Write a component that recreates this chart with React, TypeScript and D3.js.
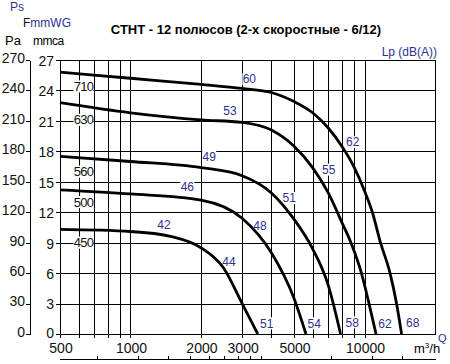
import React from 'react';
import * as d3 from 'd3';

const title = 'СТНТ - 12 полюсов (2-х скоростные - 6/12)';

// fan sizes and the pressure (mmca) where their name sits on the left
const fanSizes = ['710', '630', '560', '500', '450'];
const fanLabelQ = 630;
const fanLabelP = [24.4, 21.1, 16.0, 13.0, 9.0];

// curves as [Q m3/h, P mmca]
const curve710 = [[500, 25.8], [1000, 25.2], [2000, 24.6], [3000, 24.2], [4000, 23.8], [5000, 22.9], [6000, 21.8], [7000, 20.3], [8000, 18.5], [9000, 16.5], [10000, 14.1], [10800, 12], [11700, 9], [12850, 6], [13700, 3], [14400, 0]];
const curve630 = [[500, 22.8], [1000, 21.8], [2000, 21.1], [3000, 20.85], [4000, 20.1], [5000, 18.5], [6000, 16.4], [7000, 13.9], [8000, 11.0], [8750, 9.0], [9700, 6.0], [10450, 3.0], [11200, 0]];
const curve560 = [[500, 17.5], [1000, 17.0], [2000, 16.4], [3000, 15.6], [4000, 13.9], [5000, 11.3], [6000, 8.4], [7000, 4.8], [7900, 0]];
const curve500 = [[500, 14.2], [1000, 13.8], [2000, 13.2], [3000, 11.4], [4000, 8.0], [5000, 3.5], [5620, 0]];
const curve450 = [[500, 10.3], [1000, 10.1], [1500, 9.6], [2000, 8.5], [2500, 6.5], [3000, 3.0], [3500, 0]];
const curves = [curve710, curve630, curve560, curve500, curve450];

// sound level labels: text, Q, P
const dbText = ['60', '53', '49', '46', '42', '62', '55', '51', '48', '44', '51', '54', '58', '62', '68'];
const dbQ = [3220, 2660, 2170, 1750, 1390, 8900, 7030, 4770, 3575, 2635, 3820, 6100, 8860, 12230, 16060];
const dbP = [25.1, 22.0, 17.5, 14.5, 10.8, 18.9, 16.2, 13.4, 10.7, 7.1, 1.05, 1.05, 1.15, 1.05, 1.1];

const gridQ = [600, 700, 800, 900, 1000, 2000, 3000, 4000, 5000, 6000, 7000, 8000, 9000, 10000, 20000];
const qLabels = [500, 1000, 2000, 3000, 5000, 10000];
const pTicks = d3.range(0, 28, 3);
const paTicks = d3.range(0, 271, 30);
const lsTicks = [200, 300, 400, 500, 600, 700, 800, 900, 1000, 2000, 3000, 4000];

const blue = '#2E3192';
const font = 'Arial, "Liberation Sans", sans-serif';

const App = () => {
	const x = d3.scaleLog().domain([500, 20000]).range([60, 435]);
	const y = d3.scaleLinear().domain([0, 27]).range([334, 60]);
	const yPa = d3.scaleLinear().domain([0, 270]).range([334, 60]);
	const line = d3.line<number[]>()
		.x(d => x(d[0]))
		.y(d => y(d[1]))
		.curve(d3.curveMonotoneX);
	const px = (v: number) => Math.round(v) + 0.5;

	return (
		<svg width={450} height={364} style={{ position: 'absolute', left: 0, top: 0, fontFamily: font }}>
			<rect width={450} height={364} fill='white' />

			{/* headers */}
			<text x={10} y={11} fontSize={12} fill={blue}>Ps</text>
			<text x={23} y={27} fontSize={12}><tspan fill='#111'>F</tspan><tspan fill={blue}>mmWG</tspan></text>
			<text x={5} y={45} fontSize={13}>Pa</text>
			<text x={33} y={45} fontSize={12} letterSpacing={-0.5}>mmca</text>
			<text x={246} y={34} fontSize={13} fontWeight='bold' textAnchor='middle'>{title}</text>
			<text x={437} y={56} fontSize={12} fill={blue} textAnchor='end'>Lp (dB(A))</text>

			{/* grid */}
			<g stroke='black' strokeWidth={1} shapeRendering='crispEdges'>
				{pTicks.map(p => (
					<line key={'h' + p} x1={56} x2={435} y1={px(y(p))} y2={px(y(p))} />
				))}
				<line x1={px(x(500))} x2={px(x(500))} y1={60} y2={338} />
				{gridQ.map(q => (
					<line key={'v' + q} x1={px(x(q))} x2={px(x(q))} y1={60} y2={q === 20000 ? 335 : 338} />
				))}
				<line x1={px(30)} x2={px(30)} y1={px(60)} y2={px(334)} />
				{paTicks.map(p => (
					<line key={'pa' + p} x1={26} x2={30} y1={px(yPa(p))} y2={px(yPa(p))} />
				))}
				<line x1={60} x2={436} y1={px(359)} y2={px(359)} />
				{lsTicks.map(v => (
					<line key={'ls' + v} x1={px(x(v * 3.6))} x2={px(x(v * 3.6))} y1={356} y2={359} />
				))}
			</g>

			{/* axis labels */}
			<g fontSize={14} fill='#111'>
				{paTicks.map(p => (
					<text key={'pal' + p} x={25} y={yPa(p) - 2} dy='0.35em' textAnchor='end'>{p}</text>
				))}
				{pTicks.map(p => (
					<text key={'pl' + p} x={54} y={y(p) + (p === 0 ? -1 : 1)} dy='0.35em' textAnchor='end'>{p}</text>
				))}
				{qLabels.map(q => (
					<text key={'ql' + q} x={x(q) + 1} y={353} textAnchor='middle'>{q}</text>
				))}
			</g>
			<text x={414} y={353} fontSize={13}>m<tspan fontSize={8} dy={-5}>3</tspan><tspan dy={5}>/h</tspan></text>
			<text x={438} y={342} fontSize={11} fill={blue}>Q</text>

			{/* label backgrounds */}
			{fanSizes.map((s, i) => (
				<rect key={'fb' + s} x={x(fanLabelQ) - 10} y={y(fanLabelP[i]) - 6} width={20} height={12} fill='white' />
			))}
			{dbText.map((t, i) => (
				<rect key={'db' + i} x={x(dbQ[i]) - 7} y={y(dbP[i]) - 6} width={14} height={12} fill='white' />
			))}

			{/* curves */}
			{curves.map((c, i) => (
				<path key={'c' + i} d={line(c) || ''} fill='none' stroke='black' strokeWidth={2.8} />
			))}

			{fanSizes.map((s, i) => (
				<text key={'ft' + s} x={x(fanLabelQ)} y={y(fanLabelP[i])} dy='0.35em' fontSize={13} letterSpacing={-0.7} textAnchor='middle' fill='#111'>{s}</text>
			))}
			{dbText.map((t, i) => (
				<text key={'dt' + i} x={x(dbQ[i])} y={y(dbP[i])} dy='0.35em' fontSize={12} textAnchor='middle' fill={blue}>{t}</text>
			))}
		</svg>
	);
};

export default App;
